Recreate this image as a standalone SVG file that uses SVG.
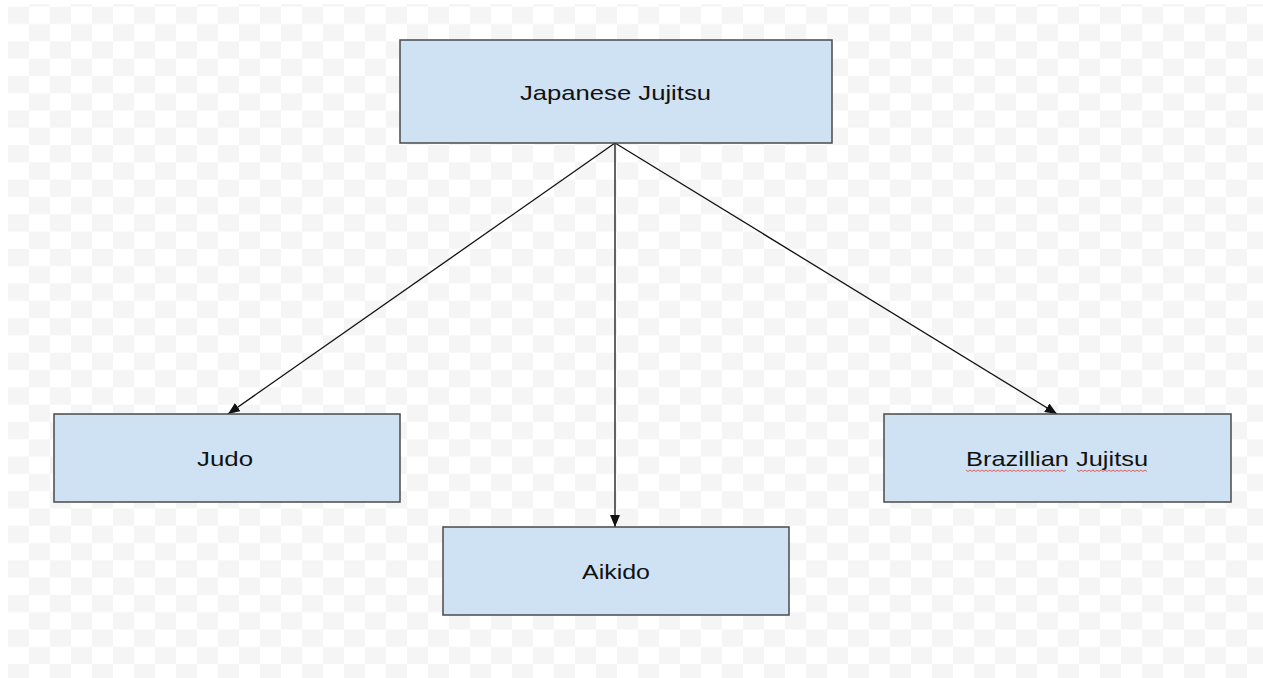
<svg xmlns="http://www.w3.org/2000/svg" width="1263" height="678" viewBox="0 0 1263 678">
<style>
.box{fill:#cfe2f3;stroke:#4a4a4a;stroke-width:1.5}
.lbl{font-family:"Liberation Sans",Arial,sans-serif;font-size:21px;fill:#111;text-anchor:middle}
.edge{stroke:#111;stroke-width:1.3;fill:none}
.squig{stroke:#e06060;stroke-width:1;fill:none}
</style>
<defs>
<pattern id="chk" patternUnits="userSpaceOnUse" x="8" y="6.7" width="42" height="34.6">
<rect width="42" height="34.6" fill="#ffffff"/>
<rect width="21" height="17.3" fill="#f5f5f5"/>
<rect x="21" y="17.3" width="21" height="17.3" fill="#f5f5f5"/>
</pattern>
<marker id="arr" markerUnits="userSpaceOnUse" markerWidth="13" markerHeight="10" refX="12" refY="5" orient="auto">
<path d="M0,0 L12,5 L0,10 z" fill="#111"/>
</marker>
</defs>
<rect width="1263" height="678" fill="#ffffff"/>
<rect x="8" y="4" width="1255" height="674" fill="url(#chk)"/>
<g id="connectors">
<line class="edge" x1="615" y1="143" x2="228" y2="414" marker-end="url(#arr)"/>
<line class="edge" x1="615" y1="143" x2="615" y2="527" marker-end="url(#arr)"/>
<line class="edge" x1="615" y1="143" x2="1057" y2="414" marker-end="url(#arr)"/>
</g>
<g id="japanese-jujitsu">
<rect class="box" x="400" y="40" width="432" height="103"/>
<text class="lbl" x="615.5" y="100" textLength="191" lengthAdjust="spacingAndGlyphs">Japanese Jujitsu</text>
</g>
<g id="judo">
<rect class="box" x="54" y="414" width="346" height="88"/>
<text class="lbl" x="225" y="466" textLength="56" lengthAdjust="spacingAndGlyphs">Judo</text>
</g>
<g id="aikido">
<rect class="box" x="443" y="527" width="346" height="88"/>
<text class="lbl" x="616" y="579" textLength="68" lengthAdjust="spacingAndGlyphs">Aikido</text>
</g>
<g id="brazillian-jujitsu">
<rect class="box" x="884" y="414" width="347" height="88"/>
<text class="lbl" x="1057" y="466" textLength="182" lengthAdjust="spacingAndGlyphs">Brazillian Jujitsu</text>
<path class="squig" d="M966,470 l2,1.5 l2,-1.5 l2,1.5 l2,-1.5 l2,1.5 l2,-1.5 l2,1.5 l2,-1.5 l2,1.5 l2,-1.5 l2,1.5 l2,-1.5 l2,1.5 l2,-1.5 l2,1.5 l2,-1.5 l2,1.5 l2,-1.5 l2,1.5 l2,-1.5 l2,1.5 l2,-1.5 l2,1.5 l2,-1.5 l2,1.5 l2,-1.5 l2,1.5 l2,-1.5 l2,1.5 l2,-1.5 l2,1.5 l2,-1.5 l2,1.5 l2,-1.5 l2,1.5 l2,-1.5 l2,1.5 l2,-1.5 l2,1.5 l2,-1.5 l2,1.5 l2,-1.5 l2,1.5 l2,-1.5 l2,1.5 l2,-1.5 l2,1.5 l2,-1.5 l2,1.5 l2,-1.5"/>
<path class="squig" d="M1077,470 l2,1.5 l2,-1.5 l2,1.5 l2,-1.5 l2,1.5 l2,-1.5 l2,1.5 l2,-1.5 l2,1.5 l2,-1.5 l2,1.5 l2,-1.5 l2,1.5 l2,-1.5 l2,1.5 l2,-1.5 l2,1.5 l2,-1.5 l2,1.5 l2,-1.5 l2,1.5 l2,-1.5 l2,1.5 l2,-1.5 l2,1.5 l2,-1.5 l2,1.5 l2,-1.5 l2,1.5 l2,-1.5 l2,1.5 l2,-1.5 l2,1.5 l2,-1.5 l2,1.5"/>
</g>
</svg>
